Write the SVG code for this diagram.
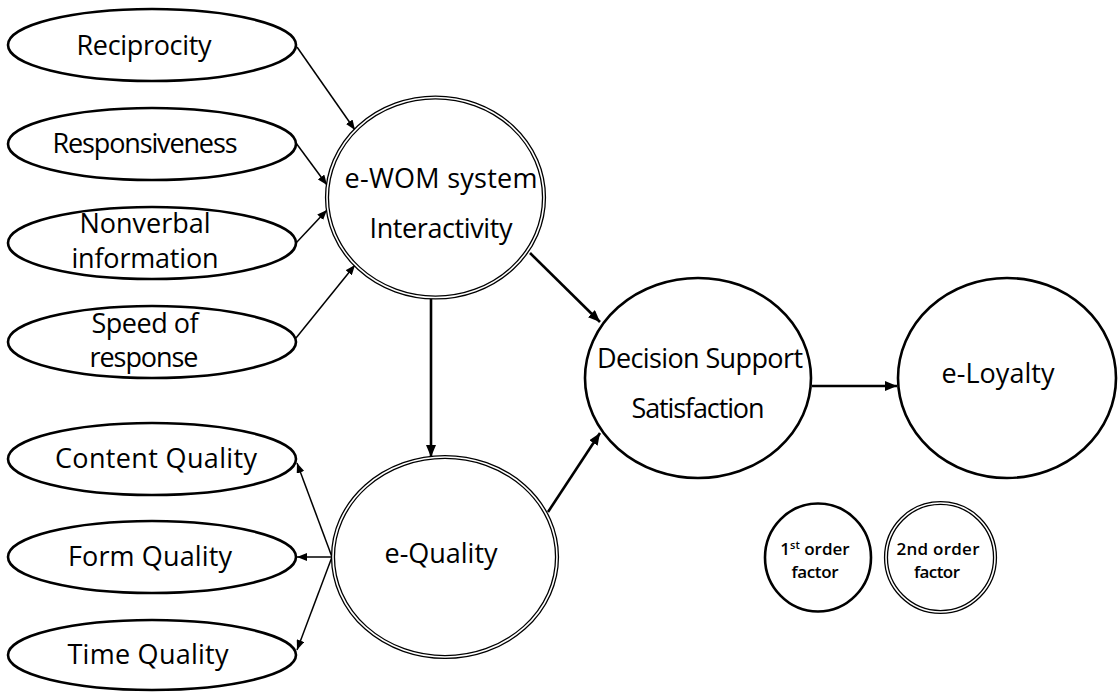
<svg xmlns="http://www.w3.org/2000/svg" width="1118" height="692" viewBox="0 0 1118 692">
<style>
.ell{fill:#fff;stroke:#000;stroke-width:2.6}
.dblo{fill:#fff;stroke:#000;stroke-width:4.2}
.dbli{fill:none;stroke:#fff;stroke-width:1.6}
.lbl{font-family:"Open Sans","DejaVu Sans",sans-serif;font-size:27px;text-anchor:middle;fill:#000}
.leg{font-family:"Open Sans","DejaVu Sans",sans-serif;font-size:17px;font-weight:600;text-anchor:middle;fill:#000}
.thin{stroke:#000;stroke-width:1.5;fill:none;marker-end:url(#ah)}
.thick{stroke:#000;stroke-width:2.6;fill:none;marker-end:url(#ahb)}
</style>
<defs>
<marker id="ah" markerUnits="userSpaceOnUse" viewBox="0 0 10 8" markerWidth="10" markerHeight="8" refX="10" refY="4" orient="auto">
<path d="M0,0 L10,4 L0,8 z" fill="#000"/>
</marker>
<marker id="ahb" markerUnits="userSpaceOnUse" viewBox="0 0 12 10" markerWidth="12" markerHeight="10" refX="12" refY="5" orient="auto">
<path d="M0,0 L12,5 L0,10 z" fill="#000"/>
</marker>
</defs>
<rect width="1118" height="692" fill="#fff"/>

<g id="connectors">
<line class="thin" x1="297" y1="47" x2="355" y2="130"/>
<line class="thin" x1="296" y1="143" x2="327" y2="185"/>
<line class="thin" x1="296" y1="243" x2="327" y2="210"/>
<line class="thin" x1="296" y1="338" x2="355" y2="265"/>
<line class="thick" x1="431" y1="298" x2="431" y2="457"/>
<line class="thick" x1="530" y1="253" x2="600" y2="322"/>
<line class="thick" x1="548" y1="512" x2="600" y2="433"/>
<line class="thick" x1="812" y1="386" x2="897" y2="386"/>
<line class="thin" x1="332" y1="557" x2="297" y2="463"/>
<line class="thin" x1="332" y1="557" x2="297" y2="557"/>
<line class="thin" x1="332" y1="557" x2="297" y2="650"/>
</g>

<g id="reciprocity"><ellipse class="ell" cx="152" cy="45" rx="144" ry="36"/><text class="lbl" x="144" y="55" textLength="135">Reciprocity</text></g>
<g id="responsiveness"><ellipse class="ell" cx="152" cy="144" rx="144" ry="36"/><text class="lbl" x="145" y="153" textLength="185">Responsiveness</text></g>
<g id="nonverbal"><ellipse class="ell" cx="152" cy="243" rx="144" ry="36"/><text class="lbl" x="145" y="233" textLength="131">Nonverbal</text><text class="lbl" x="145" y="268" textLength="147">information</text></g>
<g id="speed"><ellipse class="ell" cx="152" cy="342" rx="144" ry="36"/><text class="lbl" x="145" y="333" textLength="107">Speed of</text><text class="lbl" x="144" y="367" textLength="109">response</text></g>

<g id="content-quality"><ellipse class="ell" cx="152" cy="459" rx="144" ry="36"/><text class="lbl" x="156" y="468" textLength="202">Content Quality</text></g>
<g id="form-quality"><ellipse class="ell" cx="152" cy="557" rx="144" ry="36"/><text class="lbl" x="150" y="566" textLength="164">Form Quality</text></g>
<g id="time-quality"><ellipse class="ell" cx="152" cy="655" rx="144" ry="35"/><text class="lbl" x="148" y="664" textLength="161">Time Quality</text></g>

<g id="ewom"><ellipse class="dblo" cx="435.5" cy="197.5" rx="108.5" ry="100"/><ellipse class="dbli" cx="435.5" cy="197.5" rx="108.5" ry="100"/><text class="lbl" x="441" y="188" textLength="193">e-WOM system</text><text class="lbl" x="441" y="238" textLength="143">Interactivity</text></g>

<g id="equality"><ellipse class="dblo" cx="445" cy="557" rx="112" ry="100"/><ellipse class="dbli" cx="445" cy="557" rx="112" ry="100"/><text class="lbl" x="441" y="563" textLength="113">e-Quality</text></g>

<g id="decision"><ellipse class="ell" cx="698" cy="378" rx="113" ry="100"/><text class="lbl" x="700" y="368" textLength="206">Decision Support</text><text class="lbl" x="698" y="418" textLength="133">Satisfaction</text></g>

<g id="eloyalty"><ellipse class="ell" cx="1007" cy="378" rx="109" ry="100"/><text class="lbl" x="998" y="383" textLength="113">e-Loyalty</text></g>

<g id="legend-first"><ellipse class="ell" cx="818" cy="557.5" rx="53" ry="54"/><text class="leg" x="815" y="555">1<tspan font-size="11" dy="-6">st</tspan><tspan dy="6"> order</tspan></text><text class="leg" x="815" y="578" textLength="47">factor</text></g>
<g id="legend-second"><ellipse class="dblo" cx="940.5" cy="557.5" rx="54.5" ry="54.5"/><ellipse class="dbli" cx="940.5" cy="557.5" rx="54.5" ry="54.5"/><text class="leg" x="938" y="555" textLength="83">2nd order</text><text class="leg" x="937" y="578" textLength="46">factor</text></g>
</svg>
